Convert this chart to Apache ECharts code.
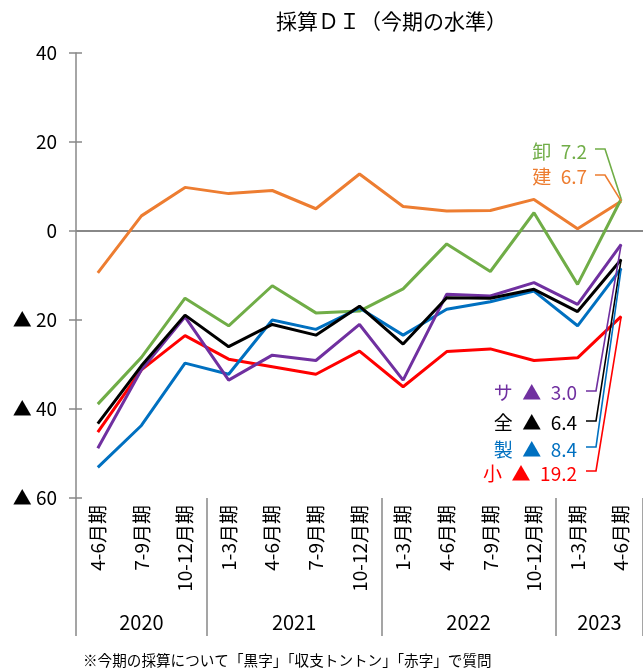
<!DOCTYPE html>
<html><head><meta charset="utf-8">
<script src="https://cdn.jsdelivr.net/npm/echarts@6/dist/echarts.min.js"></script>
<style>html,body{margin:0;padding:0;background:#fff}#c{width:643px;height:669px}</style>
</head><body><div id="c"></div>
<script>
// ---- data ----
const categories = ['4-6月期','7-9月期','10-12月期','1-3月期','4-6月期','7-9月期','10-12月期','1-3月期','4-6月期','7-9月期','10-12月期','1-3月期','4-6月期'];
const years = ['2020','2021','2022','2023'];
const yearSpans = [3,4,4,2];
const yTicks = [-60,-40,-20,0,20,40];
const construction = [-9.4,3.4,9.8,8.4,9.1,5.0,12.8,5.5,4.5,4.6,7.1,0.5,6.7];
const wholesale    = [-38.9,-28.4,-15.1,-21.3,-12.3,-18.4,-18.0,-13.0,-2.9,-9.1,4.1,-12.0,7.2];
const allInd       = [-43.3,-30.3,-18.9,-26.0,-21.0,-23.4,-16.9,-25.4,-15.0,-15.1,-13.1,-18.1,-6.4];
const manufacturing= [-53.1,-43.7,-29.7,-32.2,-20.0,-22.1,-17.3,-23.4,-17.6,-15.9,-13.5,-21.3,-8.4];
const services     = [-48.8,-31.2,-19.3,-33.5,-27.9,-29.1,-21.0,-33.5,-14.2,-14.6,-11.6,-16.5,-3.0];
const small        = [-45.2,-31.2,-23.5,-28.8,-30.5,-32.2,-27.0,-35.0,-27.1,-26.5,-29.1,-28.5,-19.2];
const seriesNames = ['卸','建','サ','全','製','小'];

// ---- styles / layout ----
const FONT = '"Noto Sans CJK JP", "Noto Sans", sans-serif';
const SP = '\u2002';
const colors = {'卸':'#70AD47','建':'#ED7D31','サ':'#7030A0','全':'#000000','製':'#0070C0','小':'#FF0000'};
const seriesData = {'卸':wholesale,'建':construction,'サ':services,'全':allInd,'製':manufacturing,'小':small};
const labelLayout = {
  '卸':{y:152, right:587, lineY:149, x1:595, x2:605},
  '建':{y:177, right:587, lineY:175, x1:595, x2:605},
  'サ':{y:393, right:577, lineY:391, x1:586, x2:596},
  '全':{y:423, right:577, lineY:421, x1:586, x2:596},
  '製':{y:450, right:577, lineY:447, x1:586, x2:596},
  '小':{y:474, right:577, lineY:471, x1:586, x2:596}
};
const drawOrder = ['建','卸','小','製','サ','全'];

// year label centers and separators from spans
const yearCenters = [], separators = [0];
let acc = 0;
yearSpans.forEach(s => { yearCenters.push(acc + s/2); acc += s; separators.push(acc); });

function fmtY(v){ return v < 0 ? '▲ ' + (-v) : String(v); }
function fmtVal(v){ return v < 0 ? '▲' + SP + (-v).toFixed(1) : v.toFixed(1); }

const chart = echarts.init(document.getElementById('c'), null, {renderer:'canvas'});
const series = drawOrder.map((n, i) => ({
  name: n, type: 'line', data: seriesData[n], xAxisIndex: 0, yAxisIndex: 0,
  symbol: 'none', lineStyle: {color: colors[n], width: 3}, itemStyle:{color: colors[n]},
  z: 3 + i, animation: false,
  markLine: i === 0 ? {silent: true, symbol: ['none','none'], label:{show:false},
    lineStyle:{color:'#888888', width:2, type:'solid'}, data:[{yAxis:0}], animation:false, z:1} : undefined
}));

chart.setOption({
  animation: false,
  textStyle: {fontFamily: FONT},
  title: {text: '採算ＤＩ（今期の水準）', left: 271, top: 6,
    textStyle: {fontFamily: FONT, fontSize: 21, fontWeight: 'normal', color: '#000'}},
  grid: {left: 76, top: 53, width: 571, height: 445, containLabel: false},
  xAxis: [
    {type: 'category', data: categories, boundaryGap: true,
     axisLine: {show: false, onZero: false}, axisTick: {show: false}, splitLine:{show:false},
     axisLabel: {rotate: 90, margin: 7, fontSize: 19, color: '#000', fontFamily: FONT, interval: 0}},
    {type: 'value', min: 0, max: 13, position: 'bottom', offset: 138,
     axisLine: {show: false, onZero: false}, splitLine: {show: false},
     axisTick: {show: true, inside: true, length: 138, customValues: separators,
       lineStyle: {color: '#888888', width: 1.5}},
     axisLabel: {show: true, inside: true, margin: 4, customValues: yearCenters,
       fontSize: 20, color: '#000', fontFamily: FONT,
       formatter: v => { const k = yearCenters.indexOf(v); return k >= 0 ? years[k] : ''; }}}
  ],
  yAxis: [
    {type: 'value', min: yTicks[0], max: yTicks[yTicks.length-1], interval: 20,
     axisLine: {show: true, onZero: false, lineStyle: {color: '#888888', width: 1.5}},
     axisTick: {show: true, length: 7, lineStyle: {color: '#888888', width: 1.5}},
     splitLine: {show: false},
     axisLabel: {margin: 19, fontSize: 19, color: '#000', fontFamily: FONT, formatter: fmtY}},
    {type: 'value', min: yTicks[0], max: yTicks[yTicks.length-1], interval: 20, position: 'left',
     axisLine: {show: false, onZero: false}, splitLine: {show: false},
     axisTick: {show: true, inside: true, length: 6, lineStyle: {color: '#888888', width: 1.5}},
     axisLabel: {show: false}}
  ],
  series: series
});

// annotations anchored to last data point via library conversion
const last = categories.length - 1;
const graphics = [];
seriesNames.forEach(n => {
  const L = labelLayout[n];
  const v = seriesData[n][last];
  const p = chart.convertToPixel({xAxisIndex: 0, yAxisIndex: 0}, [last, v]);
  graphics.push({type: 'text', x: L.right, y: L.y, z: 20,
    style: {text: n + SP + fmtVal(v), fill: colors[n], font: '19px ' + FONT,
      textAlign: 'right', textVerticalAlign: 'middle'}});
  graphics.push({type: 'polyline', z: 20,
    shape: {points: [[L.x1, L.lineY], [L.x2, L.lineY], [p[0], p[1]]]},
    style: {stroke: colors[n], lineWidth: 1.6, fill: null}});
});
graphics.push({type: 'text', x: 83, y: 660, z: 20,
  style: {text: '※今期の採算について「黒字」「収支トントン」「赤字」で質問', fill: '#000',
    font: '14.6px ' + FONT, textAlign: 'left', textVerticalAlign: 'middle'}});
chart.setOption({graphic: graphics});
</script></body></html>
